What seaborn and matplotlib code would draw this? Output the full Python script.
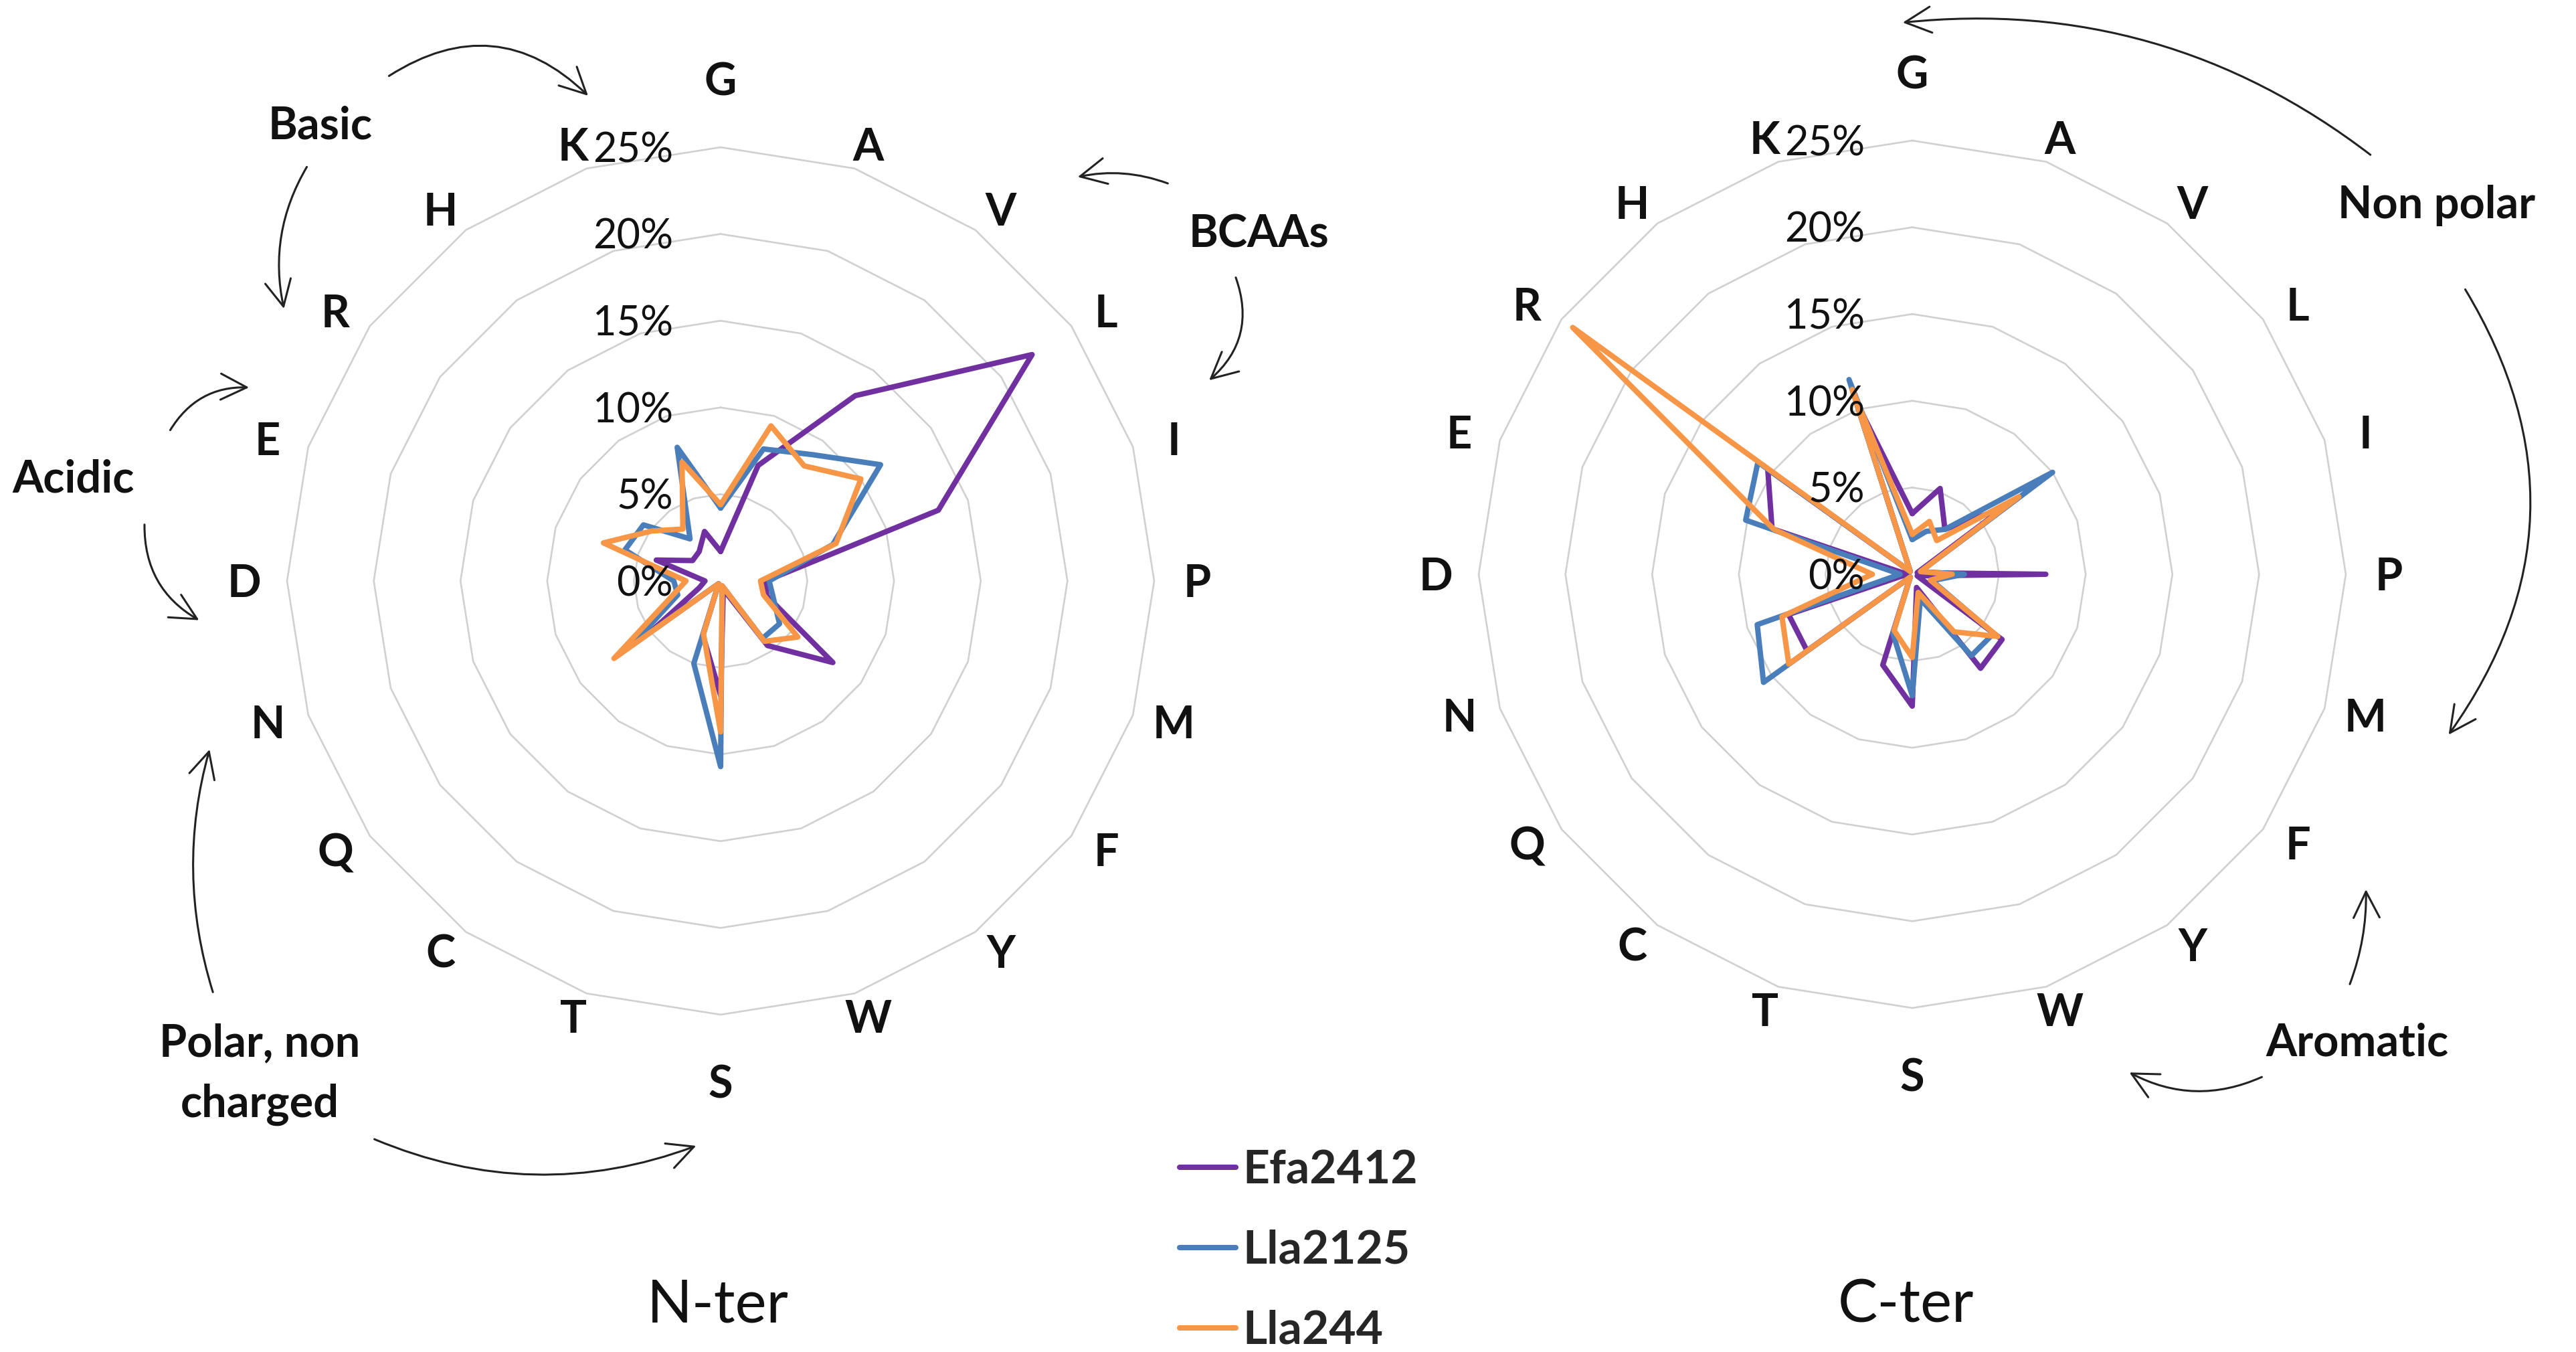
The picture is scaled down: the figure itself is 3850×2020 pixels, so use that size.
import numpy as np
import pandas as pd
import matplotlib
matplotlib.use('Agg')
import matplotlib.pyplot as plt
import seaborn as sns
from matplotlib.patches import FancyArrowPatch
from matplotlib.lines import Line2D

# --- Data: residue frequency (%) at each terminus ---
amino_acids = ['G', 'A', 'V', 'L', 'I', 'P', 'M', 'F', 'Y', 'W',
               'S', 'T', 'C', 'Q', 'N', 'D', 'E', 'R', 'H', 'K']
strains = ['Efa2412', 'Lla2125', 'Lla244']
colors = ['#7030A0', '#4A7EBB', '#F79646']
ring_levels = [0, 5, 10, 15, 20, 25]

# N-terminus
nter_efa2412 = [1.7, 7.0, 13.2, 22.2, 13.2, 2.6, 2.8, 8.0, 4.6, 0.5,
                6.6, 3.3, 0.2, 5.0, 1.3, 0.9, 3.9, 2.0, 2.1, 3.0]
nter_lla2125 = [4.2, 8.0, 9.0, 11.4, 6.8, 2.8, 3.2, 4.2, 4.1, 0.3,
                10.7, 5.0, 0.2, 6.4, 2.6, 2.7, 5.8, 5.5, 3.0, 8.1]
nter_lla244 = [4.4, 9.4, 8.2, 10.0, 7.0, 2.3, 2.6, 5.5, 4.3, 0.3,
               8.7, 3.2, 0.2, 7.6, 3.0, 2.0, 7.1, 4.9, 3.7, 7.2]

# C-terminus
cter_efa2412 = [3.5, 5.2, 3.2, 6.5, 0.3, 7.7, 0.3, 6.4, 6.7, 0.8,
                7.6, 5.5, 0.2, 7.5, 7.5, 0.3, 8.5, 10.3, 0.2, 10.5]
cter_lla2125 = [2.0, 2.6, 3.2, 10.0, 0.5, 3.0, 1.2, 5.8, 5.8, 1.5,
                7.0, 3.6, 0.2, 10.6, 9.4, 0.7, 10.1, 11.0, 0.2, 11.8]
cter_lla244 = [2.3, 3.2, 2.4, 7.6, 0.5, 2.3, 1.1, 6.1, 4.1, 1.1,
               4.8, 3.4, 0.2, 8.8, 7.9, 2.3, 8.4, 24.2, 0.2, 11.2]

# --- Style ---
sns.set_theme(style='white')
plt.rcParams['font.family'] = ['Lato', 'DejaVu Sans']

W, H = 3850, 2020
RADIUS = 648                 # pixels for the 25% ring
PX_PER_UNIT = RADIUS / 25.0
fig = plt.figure(figsize=(W / 100, H / 100), dpi=100)
fig.patch.set_facecolor('white')

n = len(amino_acids)
theta = np.linspace(0, 2 * np.pi, n + 1)


def to_long(series):
    rows = []
    for name, vals in zip(strains, series):
        closed = list(vals) + [vals[0]]
        for t, v in zip(theta, closed):
            rows.append({'theta': t, 'value': v, 'strain': name})
    return pd.DataFrame(rows)


def label_pos(t, aa):
    # Excel puts the category labels on a slightly flattened ellipse
    rx, ry = 712, 685
    if aa in ('G', 'S'):
        ry = 749
    x, y = rx * np.sin(t), ry * np.cos(t)
    return np.arctan2(x, y), np.hypot(x, y) / PX_PER_UNIT


def draw_radar(rect, series, title, title_x):
    ax = fig.add_axes(rect, projection='polar')
    ax.set_theta_zero_location('N')
    ax.set_theta_direction(-1)
    ax.set_facecolor('none')

    # polygon grid rings like Excel radar
    for lvl in ring_levels[1:]:
        ax.plot(theta, [lvl] * (n + 1), color='#D0D0D0', lw=1.9, zorder=0, clip_on=False)

    df = to_long(series)
    sns.lineplot(data=df, x='theta', y='value', hue='strain', hue_order=strains,
                 palette=colors, linewidth=5.8, errorbar=None, legend=False, ax=ax)
    for line in ax.lines:
        line.set_clip_on(False)

    ax.set_ylim(0, 25)
    ax.grid(False)
    ax.set_xticks([])
    ax.set_yticks([])
    ax.set_xlabel('')
    ax.set_ylabel('')
    ax.spines['polar'].set_visible(False)

    # category labels
    for i, aa in enumerate(amino_acids):
        t_lab, r_lab = label_pos(theta[i], aa)
        ax.annotate(aa, xy=(t_lab, r_lab), xytext=(0, -17), textcoords='offset points',
                    ha='center', va='baseline', fontsize=48, fontweight='bold',
                    color='#111111', annotation_clip=False)

    # radial value labels
    for lvl in ring_levels:
        ax.annotate(f'{lvl}%', xy=(0, lvl), xytext=(-51, -16), textcoords='offset points',
                    ha='right', va='baseline', fontsize=44, color='#111111',
                    annotation_clip=False)

    fig.text(title_x, 1 - (1945 + 30) / H, title, ha='center', va='baseline',
             fontsize=64, color='#111111')
    return ax


def rect_for(cx, cy):
    return [(cx - RADIUS) / W, 1 - (cy + RADIUS) / H, 2 * RADIUS / W, 2 * RADIUS / H]


draw_radar(rect_for(1077, 868), [nter_efa2412, nter_lla2125, nter_lla244], 'N-ter', 1073 / W)
draw_radar(rect_for(2858, 858), [cter_efa2412, cter_lla2125, cter_lla244], 'C-ter', 2848 / W)


# --- group annotations with curved arrows ---
def curved_arrow(p0, p1, rad):
    arr = FancyArrowPatch((p0[0] / W, 1 - p0[1] / H), (p1[0] / W, 1 - p1[1] / H),
                          transform=fig.transFigure, connectionstyle=f'arc3,rad={rad}',
                          arrowstyle='->,head_length=0.7,head_width=0.35',
                          mutation_scale=40, lw=2.2, color='#222222')
    fig.add_artist(arr)


def group_label(xy, text, fs=48):
    # xy is the visual centre of the capitals, in image pixels (top-left origin)
    fig.text(xy[0] / W, 1 - (xy[1] + fs / 2) / H, text, ha='center', va='baseline',
             fontsize=fs, fontweight='bold', color='#111111')


group_label((479, 184), 'Basic')
curved_arrow((579, 115), (881, 145), -0.4)
curved_arrow((460, 247), (425, 464), 0.2)

group_label((110, 712), 'Acidic')
curved_arrow((253, 645), (375, 579), -0.3)
curved_arrow((216, 781), (300, 928), 0.3)

group_label((388, 1554), 'Polar, non')
group_label((388, 1645), 'charged')
curved_arrow((319, 1485), (314, 1117), -0.15)
curved_arrow((557, 1701), (1043, 1711), 0.2)

group_label((1881, 346), 'BCAAs')
curved_arrow((1748, 275), (1608, 265), 0.15)
curved_arrow((1846, 412), (1805, 570), -0.35)

group_label((3641, 302), 'Non polar')
curved_arrow((3545, 233), (2841, 34), 0.2)
curved_arrow((3683, 430), (3658, 1100), -0.33)

group_label((3523, 1554), 'Aromatic')
curved_arrow((3511, 1473), (3536, 1326), 0.1)
curved_arrow((3383, 1608), (3180, 1601), -0.25)

# --- legend ---
handles = [Line2D([0], [0], color=c, lw=5.8) for c in colors]
fig.legend(handles, strains, loc='center left', bbox_to_anchor=(0.458, 0.075),
           frameon=False, prop={'weight': 'bold', 'size': 50}, handlelength=1.2,
           handletextpad=0.15, labelspacing=0.82, borderpad=0, borderaxespad=0)

fig.savefig('out.png', dpi=100, facecolor='white')
